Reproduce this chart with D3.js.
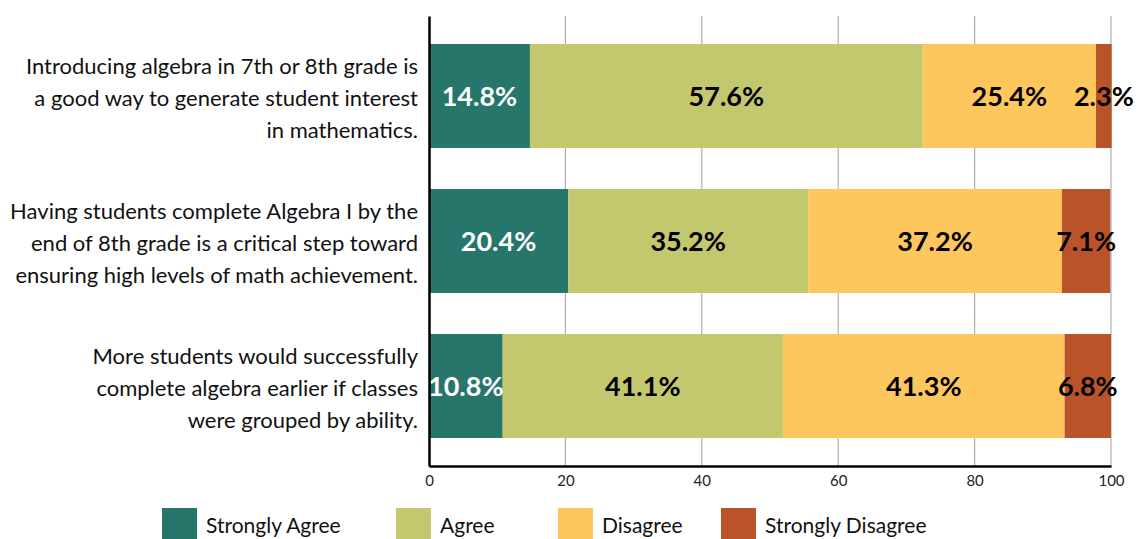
<!DOCTYPE html>
<html>
<head>
<meta charset="utf-8">
<script src="https://cdn.jsdelivr.net/npm/d3@7"></script>
<style>
  html, body { margin: 0; padding: 0; background: #fff; }
  svg { display: block; }
</style>
</head>
<body>
<svg id="chart" width="1138" height="539"></svg>
<script>
const categories = [
  "Introducing algebra in 7th or 8th grade is\na good way to generate student interest\nin mathematics.",
  "Having students complete Algebra I by the\nend of 8th grade is a critical step toward\nensuring high levels of math achievement.",
  "More students would successfully\ncomplete algebra earlier if classes\nwere grouped by ability."
];
const seriesNames = ["Strongly Agree", "Agree", "Disagree", "Strongly Disagree"];
const stronglyAgree = [14.8, 20.4, 10.8];
const agree = [57.6, 35.2, 41.1];
const disagree = [25.4, 37.2, 41.3];
const stronglyDisagree = [2.3, 7.1, 6.8];
const xTicks = [0, 20, 40, 60, 80, 100];
const colors = ["#27766c", "#c3c86e", "#fdc75e", "#ba5428"];
const labelColors = ["#ffffff", "#000000", "#000000", "#000000"];

const svg = d3.select("#chart");
const pLeft = 429, pRight = 1111, pTop = 16, pBottom = 466;

const x = d3.scaleLinear().domain([0, 100]).range([pLeft, pRight]);
const y = d3.scaleBand().domain(d3.range(categories.length)).range([pTop, pBottom])
  .paddingInner(0.283).paddingOuter(0.193);

const seriesVals = [stronglyAgree, agree, disagree, stronglyDisagree];
const table = categories.map((c, i) => {
  const o = { i };
  seriesNames.forEach((s, k) => o[s] = seriesVals[k][i]);
  return o;
});
const stacked = d3.stack().keys(seriesNames)(table);

// grid lines
svg.append("g").selectAll("line").data(xTicks.filter(t => t > 0)).join("line")
  .attr("x1", d => x(d)).attr("x2", d => x(d))
  .attr("y1", pTop).attr("y2", pBottom)
  .attr("stroke", "#b0b0b0").attr("stroke-width", 1.2);

// bars
const g = svg.append("g");
stacked.forEach((layer, k) => {
  g.append("g").selectAll("rect").data(layer).join("rect")
    .attr("x", d => x(d[0]))
    .attr("width", d => x(d[1]) - x(d[0]))
    .attr("y", (d, i) => y(i))
    .attr("height", y.bandwidth())
    .attr("fill", colors[k]);
});
// value labels
stacked.forEach((layer, k) => {
  g.append("g").selectAll("text").data(layer).join("text")
    .attr("x", d => (x(d[0]) + x(d[1])) / 2)
    .attr("y", (d, i) => y(i) + y.bandwidth() / 2)
    .attr("dy", "0.37em")
    .attr("text-anchor", "middle")
    .attr("font-family", "Lato, sans-serif")
    .attr("font-weight", 700)
    .attr("font-size", 27)
    .attr("fill", labelColors[k])
    .text(d => (d[1] - d[0]).toFixed(1) + "%");
});

// x axis
const xAxis = d3.axisBottom(x).tickValues(xTicks).tickSize(0).tickPadding(9).tickFormat(d3.format("d"));
const gx = svg.append("g").attr("transform", `translate(0,${pBottom})`).call(xAxis);
gx.select(".domain").attr("stroke", "#000").attr("stroke-width", 2.5);
gx.selectAll("text").attr("font-family", "Lato, sans-serif").attr("font-size", 15).attr("fill", "#222");

// y axis
const yAxis = d3.axisLeft(y).tickSize(0).tickFormat("");
const gy = svg.append("g").attr("transform", `translate(${pLeft},0)`).call(yAxis);
gy.select(".domain").attr("stroke", "#000").attr("stroke-width", 2.5);

// category labels
categories.forEach((c, i) => {
  const lines = c.split("\n");
  const cy = y(i) + y.bandwidth() / 2;
  const t = svg.append("text")
    .attr("text-anchor", "end")
    .attr("font-family", "Lato, sans-serif")
    .attr("font-size", 22)
    .attr("fill", "#111");
  lines.forEach((ln, j) => {
    t.append("tspan").attr("x", 418)
      .attr("y", cy + 10 + (j - (lines.length - 1) / 2) * 32)
      .text(ln);
  });
});

// legend
const legendX = [162, 396, 558, 721];
const lg = svg.append("g");
seriesNames.forEach((s, k) => {
  lg.append("rect").attr("x", legendX[k]).attr("y", 508).attr("width", 35).attr("height", 35).attr("fill", colors[k]);
  lg.append("text").attr("x", legendX[k] + 44).attr("y", 533)
    .attr("font-family", "Lato, sans-serif").attr("font-size", 21).attr("fill", "#111").text(s);
});
</script>
</body>
</html>
